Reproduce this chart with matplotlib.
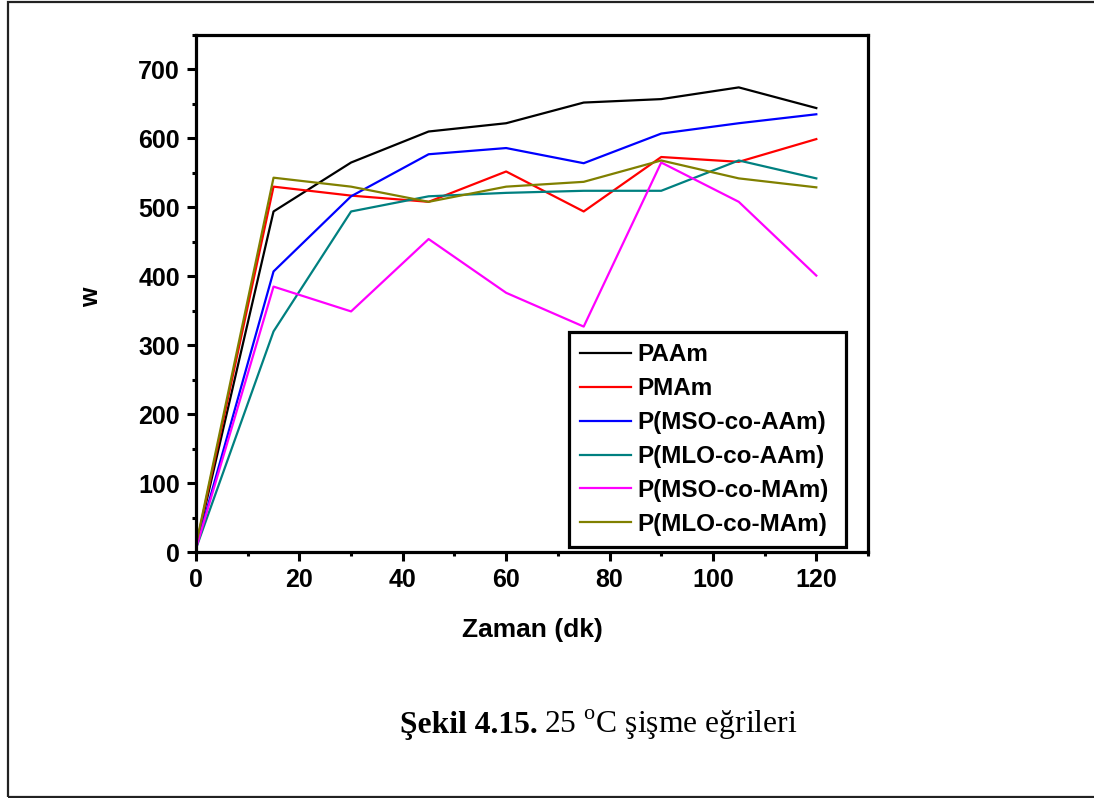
import matplotlib
matplotlib.use("Agg")
import matplotlib.pyplot as plt
from matplotlib.patches import Rectangle

plt.rcParams['font.family'] = ['Liberation Sans', 'DejaVu Sans']
plt.rcParams['mathtext.fontset'] = 'custom'
plt.rcParams['mathtext.rm'] = 'Liberation Serif'

# zaman (dk) ve şişme değerleri
zaman = [0, 15, 30, 45, 60, 75, 90, 105, 120]
paam = [8, 494, 565, 610, 622, 652, 657, 674, 644]
pmam = [8, 530, 517, 508, 552, 494, 573, 566, 599]
pmso_aam = [6, 407, 516, 577, 586, 564, 607, 622, 635]
pmlo_aam = [5, 320, 494, 516, 521, 524, 524, 568, 542]
pmso_mam = [5, 385, 349, 454, 376, 327, 565, 508, 401]
pmlo_mam = [10, 543, 530, 508, 530, 537, 568, 542, 529]

etiketler = ['PAAm', 'PMAm', 'P(MSO-co-AAm)', 'P(MLO-co-AAm)',
             'P(MSO-co-MAm)', 'P(MLO-co-MAm)']
seriler = [paam, pmam, pmso_aam, pmlo_aam, pmso_mam, pmlo_mam]
renkler = ['#000000', '#ff0000', '#0000ff', '#008080', '#ff00ff', '#808000']

W, H = 1094, 798
fig = plt.figure(figsize=(W / 100, H / 100), dpi=100)

# sayfa çerçevesi
fig.patches.append(Rectangle((8 / W, 1.5 / H), 1.2, 1 - 3 / H, transform=fig.transFigure,
                             fill=False, edgecolor='#222222', linewidth=1.6))

ax = fig.add_axes([196 / W, (H - 552) / H, 672 / W, 517 / H])
for y, renk, et in zip(seriler, renkler, etiketler):
    ax.plot(zaman, y, color=renk, linewidth=1.6, label=et)

ax.set_xlim(0, 130)
ax.set_ylim(0, 750)
ax.set_xticks(range(0, 121, 20))
ax.set_xticks(range(10, 131, 20), minor=True)
ax.set_yticks(range(0, 701, 100))
ax.set_yticks(range(50, 751, 100), minor=True)

for s in ax.spines.values():
    s.set_linewidth(2.3)
ax.tick_params(which='major', direction='out', length=6.5, width=2.2, pad=5)
ax.tick_params(which='minor', direction='out', length=3, width=2.2)
for lab in ax.get_xticklabels() + ax.get_yticklabels():
    lab.set_fontsize(18)
    lab.set_fontweight('bold')

ax.set_xlabel('Zaman (dk)', fontsize=19, fontweight='bold', va='center')
ax.xaxis.set_label_coords(0.5, -0.151)
ax.set_ylabel('w', fontsize=18, fontweight='bold', va='center')
ax.yaxis.set_label_coords(-0.156, 0.493)

leg = ax.legend(loc='lower left', bbox_to_anchor=(0.555, 0.01, 0.412, 0.41),
                mode='expand', borderaxespad=0, prop={'weight': 'bold', 'size': 17.5},
                handlelength=2.1, handletextpad=0.25, labelspacing=0.45, borderpad=0.45,
                fancybox=False, framealpha=1)
leg.get_frame().set_edgecolor('black')
leg.get_frame().set_linewidth(2.3)

# şekil alt yazısı
r = fig.canvas.get_renderer()
t1 = fig.text(400 / W, (H - 733) / H, 'Şekil 4.15.', fontsize=22.8, fontweight='bold',
              family='Liberation Serif', va='baseline')
bb = t1.get_window_extent(renderer=r)
fig.text((bb.x1 + 6) / W, (H - 733) / H, '25 $^{\\mathrm{o}}$C şişme eğrileri', fontsize=22.8,
         family='Liberation Serif', va='baseline')

fig.savefig('out.png', dpi=100)
